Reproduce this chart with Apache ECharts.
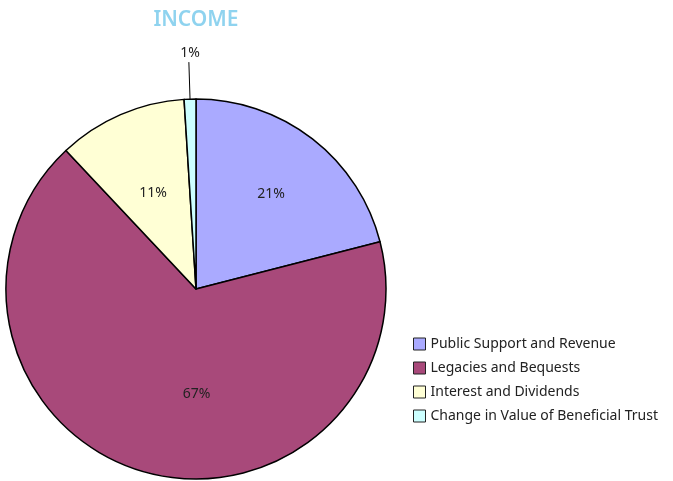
<!DOCTYPE html>
<html>
<head>
<meta charset="utf-8">
<script src="https://cdn.jsdelivr.net/npm/echarts@6/dist/echarts.min.js"></script>
<style>
  html, body { margin: 0; padding: 0; background: #fff; }
  #chart { width: 673px; height: 481px; }
</style>
</head>
<body>
<div id="chart"></div>
<script>
// income breakdown, percent
const categories = ['Public Support and Revenue', 'Legacies and Bequests', 'Interest and Dividends', 'Change in Value of Beneficial Trust'];
const values = [21, 67, 11, 1];
const colors = ['#aaaaff', '#a8497a', '#ffffd5', '#ccffff'];

const chart = echarts.init(document.getElementById('chart'));

// nudges so labels land where excel put them
const labelOffsets = [[15, -18], [28, 11], [-4, -6], [16, -9]];

const data = categories.map((name, i) => {
    const item = {
        name: name,
        value: values[i],
        itemStyle: { color: colors[i] },
        label: { offset: labelOffsets[i] }
    };
    if (i === 3) {
        // tiny slice, label sits outside with a leader
        item.label.position = 'outside';
        item.label.distance = 0;
        item.labelLine = { show: true, length: 37, length2: 0, lineStyle: { color: '#000', width: 1 } };
    }
    return item;
});

const option = {
    animation: false,
    title: {
        text: 'INCOME',
        left: 191,
        top: 5,
        textAlign: 'center',
        textStyle: {
            color: '#8fd3ef',
            fontSize: 21,
            fontWeight: 600,
            fontFamily: 'Noto Sans'
        }
    },
    legend: {
        orient: 'vertical',
        left: 408,
        top: 332,
        itemWidth: 12,
        itemHeight: 12,
        itemGap: 10,
        icon: 'rect',
        itemStyle: { borderColor: '#222', borderWidth: 1 },
        textStyle: { fontSize: 14, color: '#222', fontFamily: 'Noto Sans' },
        data: categories
    },
    series: [
        {
            type: 'pie',
            center: [196, 289],
            radius: 190,
            startAngle: 90,
            clockwise: true,
            data: data,
            itemStyle: { borderColor: '#000', borderWidth: 1.5 },
            label: {
                show: true,
                position: 'inside',
                formatter: '{d}%',
                fontSize: 14,
                color: '#222',
                fontFamily: 'Noto Sans'
            },
            labelLine: { show: false },
            emphasis: { disabled: true }
        }
    ]
};

chart.setOption(option);
window.addEventListener('resize', () => chart.resize());
</script>
</body>
</html>
